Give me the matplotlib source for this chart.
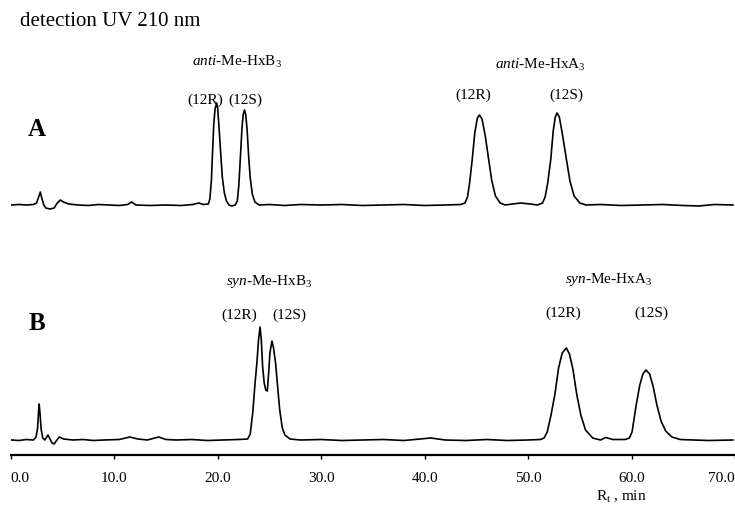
import numpy as np
import matplotlib
matplotlib.use("Agg")
from matplotlib import pyplot as plt

plt.rcParams['font.family'] = ['Liberation Serif', 'DejaVu Serif']
plt.rcParams['mathtext.fontset'] = 'custom'
plt.rcParams['mathtext.rm'] = 'Liberation Serif'
plt.rcParams['mathtext.it'] = 'Liberation Serif:italic'
plt.rcParams['mathtext.bf'] = 'Liberation Serif:bold'

# trace A: anti isomers (retention time in min, signal above baseline)
time_a = [0.1, 0.8, 1.5, 2.2, 2.5, 2.7, 2.86, 3.0, 3.2, 3.4, 3.8, 4.2, 4.5, 4.8, 5.1,
          5.6, 6.5, 7.5, 8.5, 9.5, 10.5, 11.3, 11.7, 12.1, 13.5, 15.0, 16.5, 17.6,
          18.2, 18.6, 19.1, 19.25, 19.4, 19.5, 19.62, 19.75, 19.9, 20.0, 20.12, 20.3,
          20.45, 20.65, 20.85, 21.1, 21.35, 21.7, 21.9, 22.05, 22.2, 22.35, 22.48,
          22.6, 22.72, 22.85, 23.0, 23.15, 23.35, 23.6, 24.0, 25.0, 26.5, 28.0, 30.0,
          32.0, 34.0, 36.0, 38.0, 40.0, 42.0, 43.5, 43.9, 44.15, 44.35, 44.6, 44.85,
          45.1, 45.3, 45.55, 45.85, 46.2, 46.5, 46.85, 47.3, 47.8, 48.5, 49.3, 50.2,
          50.9, 51.4, 51.65, 51.9, 52.2, 52.42, 52.63, 52.8, 53.02, 53.3, 53.7, 54.05,
          54.45, 55.0, 55.6, 57.0, 59.0, 61.0, 63.0, 65.0, 66.5, 68.0, 69.8]
signal_a = [0, 0.5, 0, 0.5, 2, 8, 13, 7, 0, -3, -4, -3, 2, 5, 3,
            1, 0, -0.5, 0.5, 0, -0.5, 0.5, 3, 0, -0.5, 0, -0.5, 0.5,
            2, 0.5, 1, 6, 25, 51, 80, 96, 102, 97, 80, 51,
            28, 12, 4, 0, -1, 0, 4, 20, 48, 77, 91,
            95, 90, 75, 48, 27, 11, 3, 0, 0.5, -0.5, 0.5, 0,
            0.5, -0.5, 0, 0.5, -0.5, 0, 0.5, 2, 8, 22, 45, 72,
            87, 90, 86, 70, 45, 24, 9, 2, 0, 1, 2, 1,
            0, 2, 8, 22, 46, 73, 88, 92, 88, 72, 46, 24,
            9, 2, 0, 0.5, -0.5, 0, 0.5, -0.5, -1, 0.5, 0]

# trace B: syn isomers
time_b = [0.1, 0.8, 1.5, 2.2, 2.45, 2.6, 2.7, 2.75, 2.82, 2.95, 3.1, 3.3, 3.6, 3.8,
          4.0, 4.2, 4.4, 4.7, 5.1, 6.0, 7.0, 8.0, 9.0, 10.5, 11.5, 12.3, 13.2, 14.3,
          15.0, 16.0, 17.5, 19.0, 20.5, 22.0, 22.9, 23.15, 23.4, 23.6, 23.8, 23.95,
          24.1, 24.22, 24.35, 24.5, 24.65, 24.8, 24.95, 25.05, 25.25, 25.4, 25.6,
          25.8, 26.0, 26.25, 26.5, 27.0, 28.0, 30.0, 32.0, 34.0, 36.0, 38.0, 40.6,
          42.0, 44.0, 46.0, 48.0, 50.0, 51.2, 51.55, 51.85, 52.2, 52.6, 52.95, 53.3,
          53.7, 54.0, 54.35, 54.7, 55.1, 55.55, 56.25, 57.0, 57.5, 58.2, 59.4, 59.8,
          60.05, 60.45, 60.8, 61.1, 61.4, 61.75, 62.1, 62.45, 62.85, 63.3, 63.9,
          64.7, 66.0, 67.5, 69.8]
signal_b = [0, -0.5, 0.5, 0, 3, 12, 30, 36, 28, 10, 2, 0, 5, 1,
            -3, -4, -1, 3, 1, 0, 0.5, -0.5, 0, 0.5, 3, 1, 0, 3,
            0.5, 0, 0.5, -0.5, 0, 0.5, 1, 6, 28, 55, 78, 100,
            113, 100, 73, 57, 50, 49, 70, 87, 99, 92, 77,
            53, 30, 12, 5, 1, 0, 0.5, -0.5, 0, 0.5, -0.5, 2,
            0, -0.5, 0.5, -0.5, 0, 0.5, 2, 8, 24, 46, 72, 87,
            92, 86, 70, 46, 25, 10, 2, 0, 2.5, 0.5, 0.5, 2,
            8, 35, 55, 66, 70, 66, 53, 35, 19, 9, 3,
            0.5, 0, -0.5, 0]

tick_values = [0, 10, 20, 30, 40, 50, 60, 70]
offset_a = 235

fig = plt.figure(figsize=(7.35, 5.12), dpi=100)
ax = fig.add_axes([10.7 / 735, 1 - 455 / 512, 1 - 10.7 / 735, 455 / 512])
ax.plot(time_a, np.array(signal_a) + offset_a, color='black', lw=1.2)
ax.plot(time_b, signal_b, color='black', lw=1.2)

ax.set_xlim(0, 69.78)
ax.set_ylim(-15, 440)
for side in ['left', 'right', 'top']:
    ax.spines[side].set_visible(False)
ax.spines['bottom'].set_linewidth(1.6)
ax.set_yticks([])
ax.set_xticks(tick_values)
ax.set_xticklabels(['%.1f' % v for v in tick_values])
ax.tick_params(axis='x', direction='out', length=3, width=1, labelsize=11, pad=9)
ticklabels = ax.get_xticklabels()
ticklabels[0].set_horizontalalignment('left')
ticklabels[-1].set_horizontalalignment('right')

lab = dict(ha='center', va='center', fontsize=11)
ax.text(21.9, 378, r'$\mathit{anti}$-Me-HxB$_3$', **lab)
ax.text(18.8, 340, '(12R)', **lab)
ax.text(22.7, 340, '(12S)', **lab)
ax.text(51.2, 375, r'$\mathit{anti}$-Me-HxA$_3$', **lab)
ax.text(44.7, 345, '(12R)', **lab)
ax.text(53.7, 345, '(12S)', **lab)
ax.text(25.0, 158, r'$\mathit{syn}$-Me-HxB$_3$', **lab)
ax.text(22.1, 125, '(12R)', **lab)
ax.text(26.9, 125, '(12S)', **lab)
ax.text(57.8, 160, r'$\mathit{syn}$-Me-HxA$_3$', **lab)
ax.text(53.4, 127, '(12R)', **lab)
ax.text(61.9, 127, '(12S)', **lab)
ax.text(2.5, 310, 'A', ha='center', va='center', fontsize=18, fontweight='bold')
ax.text(2.5, 117, 'B', ha='center', va='center', fontsize=18, fontweight='bold')

fig.text(20 / 735, 1 - 22 / 512, 'detection UV 210 nm', ha='left', va='center', fontsize=15)
fig.text(621 / 735, 1 - 497 / 512, r'R$_\mathrm{t}$ , min', ha='center', va='center', fontsize=11)

fig.savefig('out.png', dpi=100)
